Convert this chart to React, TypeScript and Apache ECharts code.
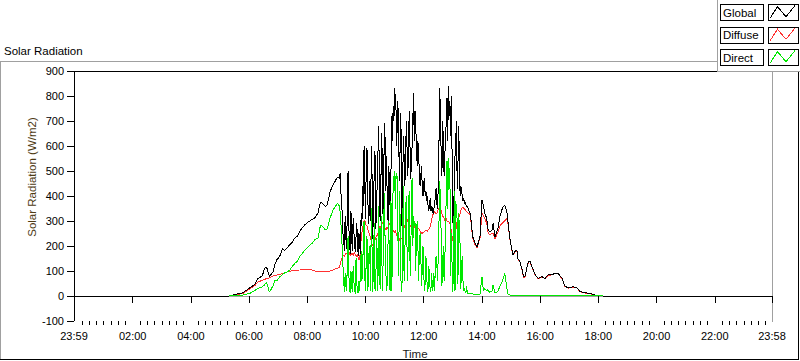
import React, { useEffect, useRef } from "react";
import * as echarts from "echarts";

// ---------- axis ticks ----------
const xTickLabels = ["23:59", "02:00", "04:00", "06:00", "08:00", "10:00", "12:00", "14:00", "16:00", "18:00", "20:00", "22:00", "23:58"];
const yMin = -100;
const yMax = 900;
const yStep = 100;
const minorTickMinutes = 15;
const nightValue = 0;

// ---------- sample times ----------
const morningTimes = [
  "05:18", "05:47", "06:01", "06:12", "06:18", "06:27", "06:32", "06:36", "06:42", "06:49", "06:53", "06:57",
  "07:03", "07:09", "07:13", "07:18", "07:24", "07:28", "07:34", "07:39", "07:44", "07:49", "07:55", "07:59",
  "08:05", "08:10", "08:15", "08:22", "08:27", "08:31", "08:37", "08:41", "08:47", "08:53", "08:57", "09:02",
];
const middayTimes = [
  "09:06", "09:07:30", "09:09", "09:10:30", "09:12", "09:13:30", "09:15", "09:16:30", "09:18", "09:19:30", "09:21", "09:22:30",
  "09:24", "09:25:30", "09:27", "09:28:30", "09:30", "09:31:30", "09:33", "09:34:30", "09:36", "09:37:30", "09:39", "09:40:30",
  "09:42", "09:43:30", "09:45", "09:46:30", "09:48", "09:49:30", "09:51", "09:52:30", "09:54", "09:55:30", "09:57", "09:58:30",
  "10:00", "10:01:30", "10:03", "10:04:30", "10:06", "10:07:30", "10:09", "10:10:30", "10:12", "10:13:30", "10:15", "10:16:30",
  "10:18", "10:19:30", "10:21", "10:22:30", "10:24", "10:25:30", "10:27", "10:28:30", "10:30", "10:31:30", "10:33", "10:34:30",
  "10:36", "10:37:30", "10:39", "10:40:30", "10:42", "10:43:30", "10:45", "10:46:30", "10:48", "10:49:30", "10:51", "10:52:30",
  "10:54", "10:55:30", "10:57", "10:58:30",
  "11:00", "11:01:30", "11:03", "11:04:30", "11:06", "11:07:30", "11:09", "11:10:30", "11:12", "11:13:30", "11:15", "11:16:30",
  "11:18", "11:19:30", "11:21", "11:22:30", "11:24", "11:25:30", "11:27", "11:28:30", "11:30", "11:31:30", "11:33", "11:34:30",
  "11:36", "11:37:30", "11:39", "11:40:30", "11:42", "11:43:30", "11:45", "11:46:30", "11:48", "11:49:30", "11:51", "11:52:30",
  "11:54", "11:55:30", "11:57", "11:58:30",
  "12:00", "12:01:30", "12:03", "12:04:30", "12:06", "12:07:30", "12:09", "12:10:30", "12:12", "12:13:30", "12:15", "12:16:30",
  "12:18", "12:19:30", "12:21", "12:22:30", "12:24", "12:25:30", "12:27", "12:28:30", "12:30", "12:31:30", "12:33", "12:34:30",
  "12:36", "12:37:30", "12:39", "12:40:30", "12:42", "12:43:30", "12:45", "12:46:30", "12:48", "12:49:30", "12:51", "12:52:30",
  "12:54", "12:55:30", "12:57", "12:58:30",
  "13:00", "13:01:30", "13:03", "13:04:30", "13:06", "13:07:30", "13:09", "13:10:30", "13:12", "13:13:30", "13:15", "13:16:30",
  "13:18", "13:19:30", "13:21", "13:22:30", "13:24", "13:25:30", "13:27", "13:28:30", "13:30", "13:31:30", "13:33", "13:34:30",
  "13:36",
];
const afternoonTimes = [
  "13:41", "13:46", "13:50", "13:56",
  "14:00", "14:03", "14:06", "14:10", "14:12", "14:16", "14:21", "14:23", "14:27", "14:33", "14:37", "14:41", "14:44", "14:47", "14:52", "14:54", "14:58",
  "15:02", "15:04", "15:08", "15:12", "15:14", "15:18", "15:23", "15:26", "15:29", "15:33", "15:36", "15:39", "15:43", "15:50", "15:56",
  "16:04", "16:10", "16:16", "16:25", "16:31", "16:37", "16:45", "16:51", "16:58",
  "17:08", "17:16", "17:22", "17:33", "17:43", "17:53",
  "18:04", "18:10",
];

// ---------- Global (W/m2) ----------
const globalMorning = [
  0, 13, 32, 46, 70, 80, 110, 116, 78, 95, 125, 145,
  158, 190, 183, 192, 205, 212, 232, 238, 258, 272, 285, 292,
  300, 306, 312, 332, 376, 370, 358, 364, 418, 444, 458, 476,
];
const globalMidday = [
  470, 490, 420, 380, 330, 250, 220, 180, 320, 230, 190, 350, 500, 280, 210, 170, 340, 230, 180, 310, 260, 200, 175, 240, 290, 210, 160, 250, 200, 170, 330, 280, 440, 360, 600, 450,
  310, 520, 590, 420, 290, 330, 460, 300, 600, 480, 230, 380, 500, 580, 270, 320, 450, 560, 680, 500, 300, 420, 650, 560, 330, 480, 690, 620, 420, 560, 340, 300, 520, 440, 330, 500, 720, 620, 760, 700,
  830, 790, 740, 600, 780, 740, 560, 460, 730, 650, 280, 420, 640, 560, 440, 520, 700, 600, 480, 560, 740, 620, 470, 520, 600, 700, 810, 620, 740, 680, 600, 520, 620, 560, 500, 440, 480, 520, 430, 400,
  450, 470, 400, 420, 380, 400, 360, 340, 370, 390, 340, 360, 345, 330, 350, 370, 400, 430, 370, 350, 440, 620, 830, 720, 560, 480, 700, 620, 480, 560, 640, 700, 790, 620, 840, 720, 780, 640, 800, 560,
  300, 270, 480, 560, 620, 700, 430, 520, 680, 560, 400, 440, 420, 400, 380, 390, 370, 375, 365, 360, 355, 350, 340, 336, 330,
];
const globalAfternoon = [
  237, 211, 197, 237,
  384, 360, 331, 310, 271, 255, 265, 290, 237, 271, 317, 344, 358, 364, 331, 290, 225,
  184, 166, 178, 184, 150, 140, 104, 75, 80, 117, 137, 140, 118, 84, 71,
  77, 70, 84, 86, 91, 90, 71, 40, 32,
  37, 33, 18, 13, 10, 4,
  1, 0,
];

// ---------- Diffuse (W/m2) ----------
const diffuseMorning = [
  0, 10, 28, 42, 55, 63, 66, 70, 72, 80, 82, 84,
  86, 90, 93, 96, 99, 101, 102, 103, 104, 105, 106, 107,
  106, 104, 100, 97, 97, 97, 97, 98, 100, 104, 108, 110,
];
const diffuseMidday = [
  115, 125, 135, 148, 155, 162, 160, 158, 165, 172, 170, 166, 175, 178, 170, 163, 165, 170, 168, 162, 172, 175, 165, 160, 160, 168, 150, 145, 150, 185, 230, 255, 270, 290, 300, 305,
  290, 282, 280, 270, 260, 252, 240, 230, 220, 205, 200, 212, 215, 225, 230, 245, 240, 248, 260, 275, 280, 270, 285, 295, 290, 282, 280, 270, 265, 272, 275, 268, 280, 292, 290, 280, 275, 270, 264, 258,
  255, 262, 250, 242, 240, 238, 230, 222, 225, 232, 230, 245, 260, 272, 280, 295, 300, 308, 300, 292, 290, 285, 280, 276, 280, 285, 275, 272, 278, 282, 275, 268, 270, 272, 265, 258, 255, 250, 250, 254,
  255, 258, 260, 264, 262, 258, 265, 268, 270, 282, 290, 305, 320, 328, 330, 338, 335, 328, 330, 340, 345, 352, 355, 348, 340, 328, 320, 318, 310, 302, 305, 310, 300, 296, 300, 295, 290, 272, 260, 235,
  220, 215, 225, 245, 260, 285, 300, 305, 310, 322, 330, 342, 350, 352, 355, 350, 350, 345, 340, 338, 335, 332, 330, 328, 325,
];
const diffuseAfternoon = [
  230, 205, 192, 232,
  330, 320, 310, 290, 257, 245, 250, 250, 228, 255, 280, 290, 295, 300, 310, 285, 222,
  182, 164, 175, 182, 148, 138, 102, 73, 78, 115, 135, 138, 116, 82, 70,
  76, 69, 82, 85, 90, 88, 70, 39, 31,
  36, 32, 17, 12, 9, 4,
  2, 2,
];

// ---------- Direct (W/m2) ----------
const directMorning = [
  0, 4, 10, 22, 30, 36, 45, 55, 15, 40, 62, 60,
  76, 86, 92, 96, 104, 116, 130, 138, 157, 168, 184, 190,
  204, 210, 224, 232, 282, 280, 264, 268, 312, 344, 355, 370,
];
const directMidday = [
  360, 340, 300, 250, 190, 120, 60, 15, 90, 40, 20, 130, 240, 90, 30, 12, 100, 40, 15, 120, 60, 20, 10, 150, 50, 15, 12, 60, 20, 100, 180, 60, 110, 210, 300, 80,
  20, 150, 240, 20, 60, 200, 150, 20, 350, 180, 15, 150, 290, 30, 20, 230, 180, 20, 360, 200, 30, 250, 320, 20, 110, 300, 410, 200, 90, 20, 60, 220, 300, 30, 20, 380, 20, 150, 480, 420,
  500, 350, 490, 470, 480, 80, 250, 420, 200, 20, 15, 250, 440, 60, 150, 330, 400, 200, 60, 350, 420, 150, 80, 380, 470, 200, 320, 280, 300, 100, 250, 300, 200, 60, 180, 250, 160, 40, 110, 200,
  90, 20, 50, 160, 100, 15, 30, 120, 70, 15, 30, 90, 20, 40, 90, 20, 120, 160, 130, 60, 170, 300, 460, 380, 240, 40, 130, 200, 60, 150, 260, 420, 540, 350, 550, 500, 480, 80, 250, 120,
  15, 150, 420, 20, 380, 350, 300, 50, 330, 280, 200, 30, 120, 160, 60, 20, 30, 15, 12, 40, 10, 10, 10, 10, 10,
];
const directAfternoon = [
  8, 6, 5, 6,
  77, 20, 30, 20, 25, 15, 20, 44, 12, 18, 40, 55, 70, 91, 25, 6, 4,
  4, 4, 4, 4, 4, 4, 4, 3, 3, 3, 3, 3, 3, 3, 3,
  3, 3, 3, 3, 3, 3, 2, 2, 2,
  2, 2, 2, 2, 2, 2,
  2, 2,
];

const legendNames = ["Global", "Diffuse", "Direct"];
const lineColors = ["#000000", "#ff3030", "#00e800"];
const titleText = "Solar Radiation";
const yAxisName = "Solar Radiation (W/m2)";
const xAxisName = "Time";

const FONT = "'Liberation Sans', Arial, sans-serif";
const GREY = "#a0a0a0";

function toMinutes(s: string): number {
  const [h, m, sec] = s.split(":").map(Number);
  return h * 60 + m + (sec || 0) / 60;
}
const axisStart = toMinutes(xTickLabels[0]) - 1440; // 23:59 of the previous day
const axisEnd = toMinutes(xTickLabels[xTickLabels.length - 1]);
const majorTicks = xTickLabels.map((s, i) => (i === 0 ? axisStart : toMinutes(s)));
const minorTicks: number[] = [];
for (let v = minorTickMinutes; v < axisEnd; v += minorTickMinutes) {
  if (!majorTicks.includes(v)) minorTicks.push(v);
}
function fmtTime(v: number): string {
  const m = ((Math.round(v) % 1440) + 1440) % 1440;
  const h = Math.floor(m / 60);
  const mm = m % 60;
  return `${String(h).padStart(2, "0")}:${String(mm).padStart(2, "0")}`;
}

const times = [...morningTimes, ...middayTimes, ...afternoonTimes];
const globalValues = [...globalMorning, ...globalMidday, ...globalAfternoon];
const diffuseValues = [...diffuseMorning, ...diffuseMidday, ...diffuseAfternoon];
const directValues = [...directMorning, ...directMidday, ...directAfternoon];

const pairs = (vals: number[]) => times.map((t, i) => [toMinutes(t), vals[i]]);

function buildOption(): any {
  const lineSeries = (name: string, color: string, data: any[]) => ({
    name,
    type: "line",
    data,
    xAxisIndex: 0,
    yAxisIndex: 0,
    showSymbol: false,
    symbol: "none",
    silent: true,
    emphasis: { disabled: true },
    lineStyle: { color, width: 1 },
    itemStyle: { color },
  });

  const legendEls: any[] = [
    { type: "rect", shape: { x: 717.5, y: -1, width: 84, height: 72.5 }, style: { fill: "#fff", stroke: GREY, lineWidth: 1 } },
  ];
  legendNames.forEach((name, k) => {
    const y0 = 4 + 22.5 * k;
    legendEls.push(
      { type: "rect", shape: { x: 720.5, y: y0 + 0.5, width: 43, height: 16 }, style: { fill: "#fff", stroke: "#000", lineWidth: 1 } },
      { type: "text", x: 723, y: y0 + 8.8, style: { text: name, fill: "#000", font: `11.5px ${FONT}`, verticalAlign: "middle", align: "left" } },
      { type: "rect", shape: { x: 768.5, y: y0 + 0.5, width: 30, height: 16 }, style: { fill: "#fff", stroke: "#000", lineWidth: 1 } },
      {
        type: "polyline",
        shape: { points: [[770, y0 + 14.3], [777.5, y0 + 2.7], [786, y0 + 12.7], [795, y0 + 1.5]] },
        style: { stroke: lineColors[k], lineWidth: 1, fill: null },
      }
    );
  });

  return {
    animation: false,
    backgroundColor: "#ffffff",
    grid: { left: 74, top: 71, width: 698, height: 250, containLabel: false, outerBoundsMode: "none" },
    xAxis: [
      {
        type: "value",
        min: axisStart,
        max: axisEnd,
        position: "bottom",
        axisLine: { show: true, lineStyle: { color: GREY, width: 1 } },
        axisTick: { show: true, customValues: majorTicks, length: 7, lineStyle: { color: "#000", width: 1 } },
        axisLabel: { show: true, customValues: majorTicks, formatter: fmtTime, fontSize: 11, fontFamily: FONT, color: "#000", margin: 9 },
        splitLine: { show: false },
      },
      {
        type: "value",
        min: axisStart,
        max: axisEnd,
        position: "bottom",
        axisLine: { show: false },
        axisTick: { show: true, customValues: minorTicks, length: 4, lineStyle: { color: "#000", width: 1 } },
        axisLabel: { show: false },
        splitLine: { show: false },
      },
    ],
    yAxis: {
      type: "value",
      min: yMin,
      max: yMax,
      interval: yStep,
      axisLine: { show: true, lineStyle: { color: "#000", width: 1 } },
      axisTick: { show: true, length: 7, lineStyle: { color: "#000", width: 1 } },
      axisLabel: { fontSize: 11, fontFamily: FONT, color: "#000", margin: 10 },
      splitLine: { show: false },
    },
    series: [
      lineSeries("Diffuse", lineColors[1], pairs(diffuseValues)),
      lineSeries("Global", lineColors[0], [[axisStart, nightValue], ...pairs(globalValues), [axisEnd, nightValue]]),
      lineSeries("Direct", lineColors[2], pairs(directValues)),
    ],
    graphic: [
      // outer panel frame
      { type: "line", shape: { x1: 0, y1: 61.5, x2: 798, y2: 61.5 }, style: { stroke: GREY, lineWidth: 1 } },
      { type: "line", shape: { x1: 0.5, y1: 61, x2: 0.5, y2: 359 }, style: { stroke: GREY, lineWidth: 1 } },
      { type: "line", shape: { x1: 0, y1: 359.5, x2: 799, y2: 359.5 }, style: { stroke: "#000", lineWidth: 1 } },
      { type: "line", shape: { x1: 798.5, y1: 61, x2: 798.5, y2: 360 }, style: { stroke: "#000", lineWidth: 1 } },
      // plot frame top / right
      { type: "line", shape: { x1: 74, y1: 71.5, x2: 773, y2: 71.5 }, style: { stroke: "#000", lineWidth: 1 } },
      { type: "line", shape: { x1: 772.5, y1: 71, x2: 772.5, y2: 322 }, style: { stroke: GREY, lineWidth: 1 } },
      // texts
      { type: "text", x: 4, y: 51, style: { text: titleText, fill: "#000", font: `11.5px ${FONT}`, verticalAlign: "middle", align: "left" } },
      {
        type: "text",
        x: 32,
        y: 177,
        rotation: Math.PI / 2,
        style: { text: yAxisName, fill: "#4e3a14", font: `11.5px ${FONT}`, verticalAlign: "middle", align: "center" },
      },
      { type: "text", x: 415, y: 354, style: { text: xAxisName, fill: "#1a1a1a", font: `11.5px ${FONT}`, verticalAlign: "middle", align: "center" } },
      ...legendEls,
    ],
  };
}

const crispCss = "#solar-chart svg path, #solar-chart svg line, #solar-chart svg polyline, #solar-chart svg rect { shape-rendering: crispEdges; }";

export default function App() {
  const ref = useRef<HTMLDivElement>(null);
  useEffect(() => {
    if (!ref.current) return;
    const chart = echarts.init(ref.current, null, { renderer: "svg" });
    chart.setOption(buildOption());
    return () => chart.dispose();
  }, []);
  return (
    <>
      <style>{crispCss}</style>
      <div id="solar-chart" ref={ref} style={{ position: "fixed", left: 0, top: 0, width: 800, height: 361 }} />
    </>
  );
}
